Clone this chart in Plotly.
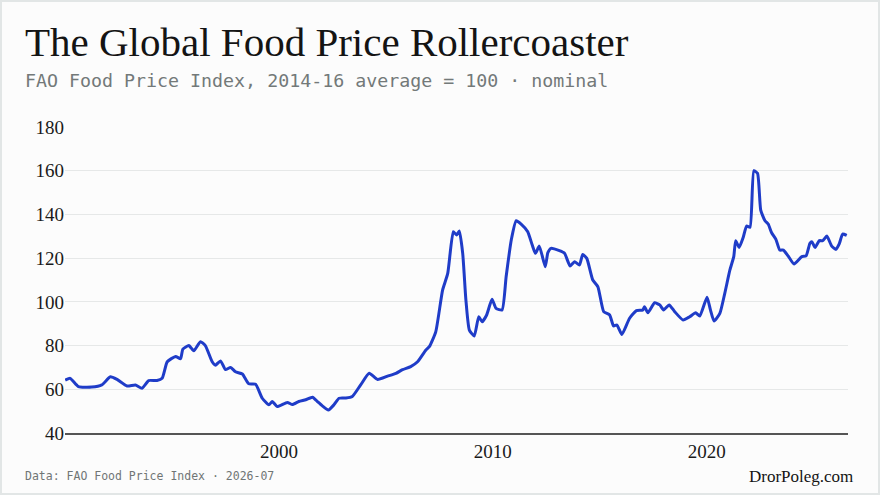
import plotly.graph_objects as go

years = [-9.99,-9.76,-9.37,-8.75,-8.28,-7.88,-7.57,-7.1,-6.71,-6.4,-6.09,-5.7,-5.46,-5.22,-4.83,-4.6,-4.49,-4.21,-3.98,-3.67,-3.44,-3.12,-2.97,-2.73,-2.5,-2.26,-2.03,-1.71,-1.41,-1.09,-0.78,-0.47,-0.31,-0.08,0.39,0.63,0.93,1.25,1.57,1.8,2.03,2.31,2.58,2.81,3.13,3.43,3.82,4.22,4.61,5.08,5.47,5.78,6.16,6.48,6.87,
         7.03,7.33,7.65,7.89,8.15,8.3,8.43,8.59,8.74,8.9,9.13,9.34,9.5,9.71,9.96,10.15,10.43,10.62,10.86,11.09,11.32,11.63,11.84,11.99,12.17,12.45,12.57,12.72,13.11,13.35,13.61,13.82,14.05,14.2,14.39,14.67,14.91,15.18,15.46,15.64,15.8,16.03,16.39,16.71,17.01,17.09,17.25,17.56,17.8,17.98,18.24,18.5,18.89,19.2,19.48,19.67,
         20.01,20.17,20.34,20.61,20.84,21.08,21.26,21.35,21.51,21.7,21.86,22.02,22.2,22.37,22.52,22.72,22.87,23.03,23.23,23.41,23.58,23.8,24.08,24.44,24.64,24.82,24.91,25.06,25.26,25.42,25.61,25.84,26.04,26.19,26.35,26.54]
index = [64.2,65,61.2,61,62,65.7,64.5,61.5,62,60.5,64,64,65,72.6,75,74,78.4,80,77.6,81.8,80,72.6,71,73,69,70,68,67,62.5,62.3,55.9,52.9,54.4,52.1,54,53,54.4,55.2,56.4,54.4,52.4,50.5,53,55.9,56,56.7,62,67.3,64.5,66,67.3,69,70.4,72.6,78,
         79.5,86.3,105.4,113,132.1,130.6,132.4,122.2,100.8,87.1,84.4,93.2,90.9,94,101.2,97,96.3,111.5,128.3,137.1,135.6,132.1,126,122.2,125.5,116.1,122.5,124.5,123.4,122.2,116.4,118.4,116.9,121.7,119.9,110,106.9,95.5,94,89,89.4,85.1,92.5,96,96.3,97.8,95,99.6,98.6,96.3,98.6,95.5,91.7,93.2,95,93.5,
         102.1,96.3,91.2,94.7,103.9,114.6,120.7,128,124.9,129.5,134.7,134.1,160,158.8,142,137.1,135.6,131.6,128.6,123.7,123.7,121,117.3,120.7,121,126.8,127.5,124.9,128,128,130.1,125.5,124,126.5,131,130.4]
x = [2000 + v for v in years]

fig = go.Figure(go.Scatter(x=x, y=index, mode="lines", line=dict(color="#1f3cc8", width=3, shape="spline", smoothing=0.5), hoverinfo="skip"))

serif = "Liberation Serif"
mono = "DejaVu Sans Mono"
pw, ph = 880-65-32, 495-127-62

def ax(px_):
    return (px_ - 65) / pw

def ay(py_):
    return 1 - (py_ - 127) / ph

fig.update_layout(
    width=880, height=495, margin=dict(l=65, r=32, t=127, b=62),
    paper_bgcolor="#fcfcfc", plot_bgcolor="#fcfcfc", showlegend=False,
    xaxis=dict(range=[1990, 2026.6], tickvals=[2000, 2010, 2020], showgrid=False, showline=True, linecolor="#555555", linewidth=2,
               ticks="", tickfont=dict(family=serif, size=19, color="#1a1a1a"), zeroline=False),
    yaxis=dict(range=[40, 180], tickvals=[40,60,80,100,120,140,160,180], gridcolor="#e6e8e8", gridwidth=1, showline=False,
               ticks="", tickfont=dict(family=serif, size=19, color="#1a1a1a"), zeroline=False),
    annotations=[
        dict(text="The Global Food Price Rollercoaster", x=ax(23), y=ay(42), xref="paper", yref="paper", showarrow=False,
             xanchor="left", yanchor="middle", font=dict(family=serif, size=41, color="#141414")),
        dict(text="FAO Food Price Index, 2014-16 average = 100 · nominal", x=ax(23), y=ay(80), xref="paper", yref="paper", showarrow=False,
             xanchor="left", yanchor="middle", font=dict(family=mono, size=18.3, color="#737979")),
        dict(text="Data: FAO Food Price Index · 2026-07", x=ax(23), y=ay(476), xref="paper", yref="paper", showarrow=False,
             xanchor="left", yanchor="middle", font=dict(family=mono, size=11.5, color="#707575")),
        dict(text="DrorPoleg.com", x=ax(855), y=ay(476), xref="paper", yref="paper", showarrow=False,
             xanchor="right", yanchor="middle", font=dict(family=serif, size=17, color="#141414")),
    ],
)
fig.add_shape(type="rect", xref="paper", yref="paper", x0=ax(1), x1=ax(879), y0=ay(494), y1=ay(1),
              line=dict(color="#e2e6e6", width=2), fillcolor="rgba(0,0,0,0)", layer="below")
fig.write_html("out.html", config={"displayModeBar": False}, post_script="document.body.style.margin='0';")
